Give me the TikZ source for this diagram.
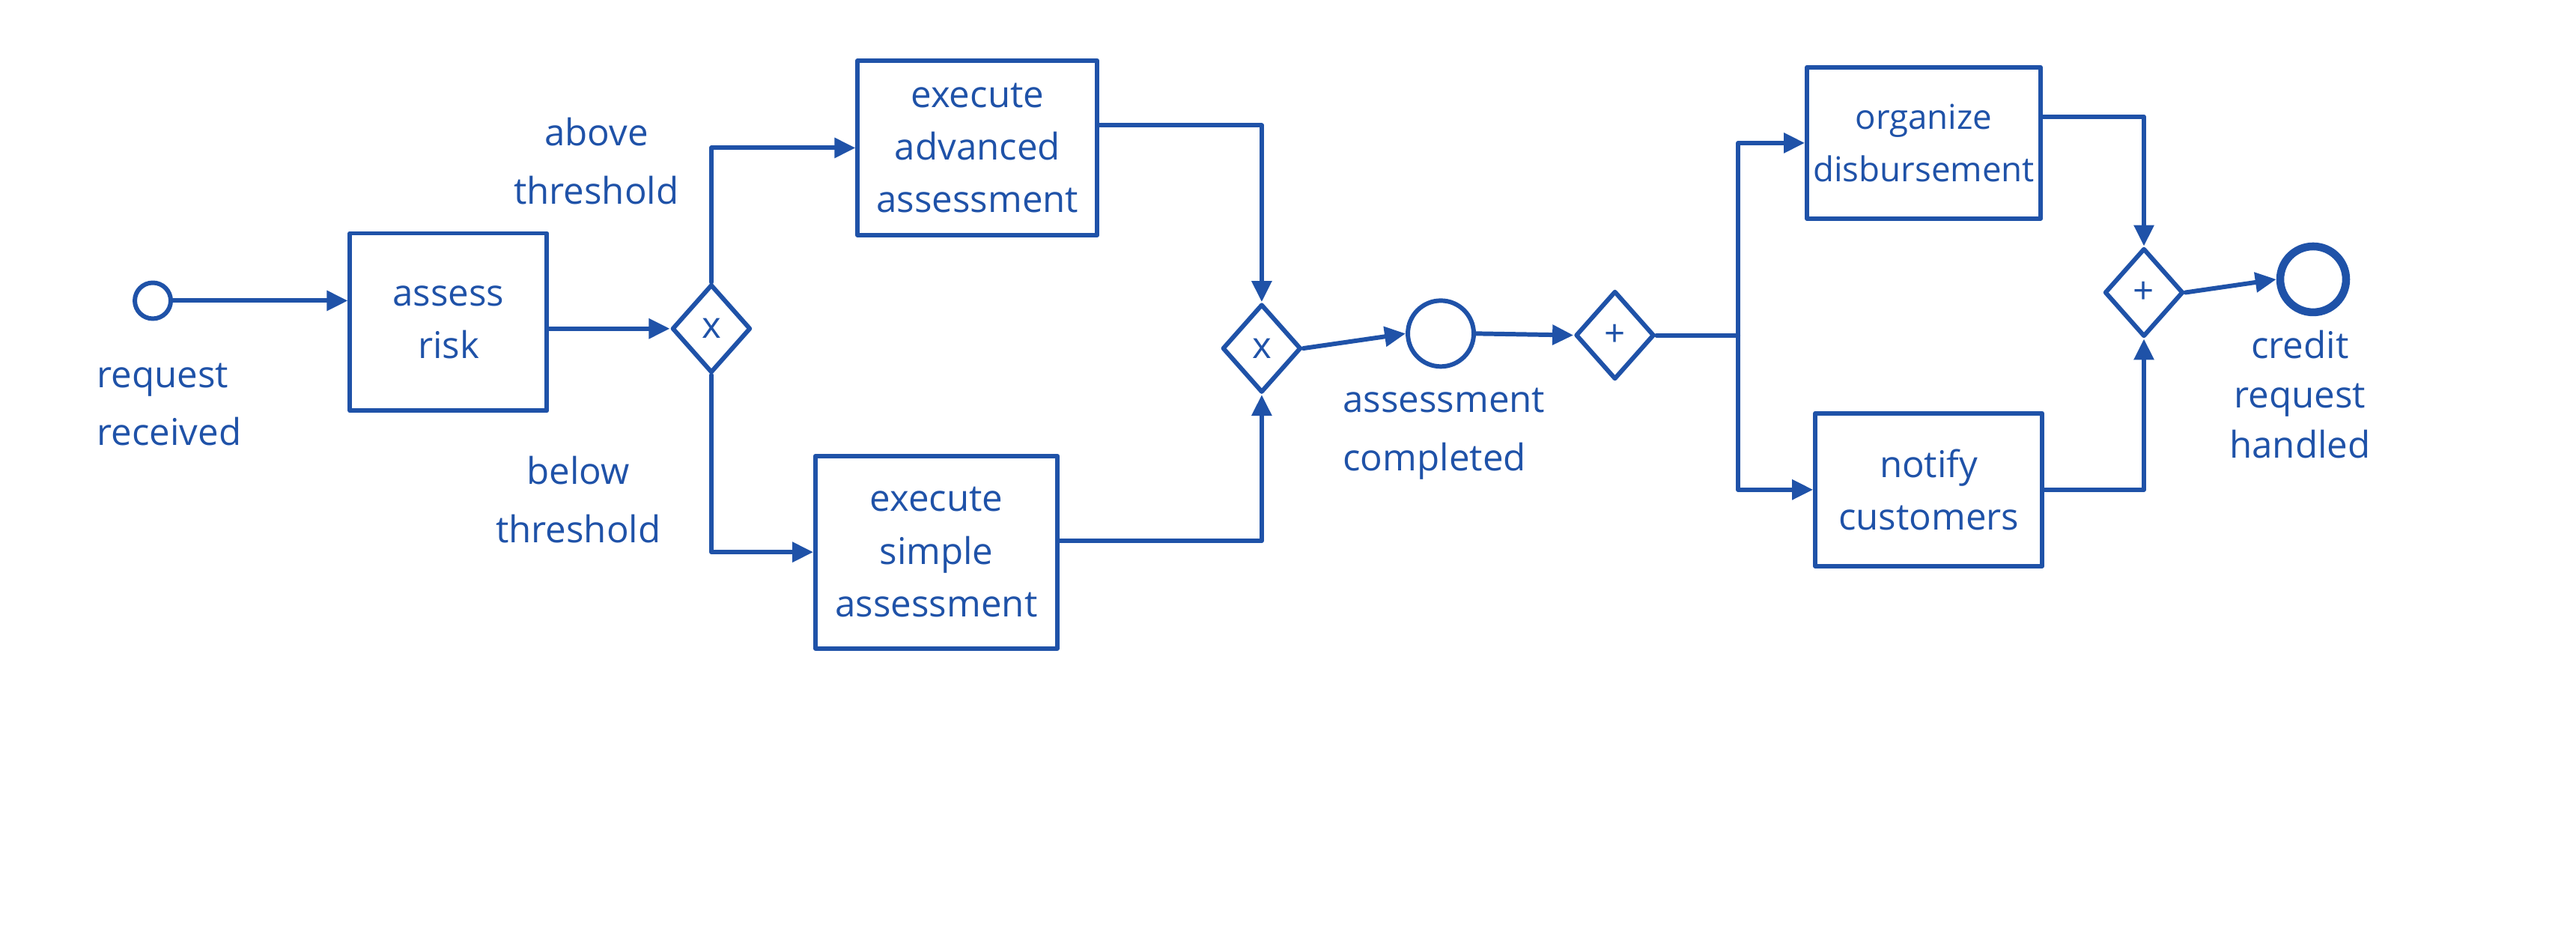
\documentclass[tikz,border=0pt]{standalone}
\usepackage{fontspec}
\setmainfont{Open Sans}
\usetikzlibrary{arrows.meta,shapes.geometric}
\definecolor{ink}{RGB}{31,82,168}
\begin{document}
\begin{tikzpicture}[x=0.02194cm,y=-0.02194cm,
  inkline/.style={draw=ink,line width=1.7pt,line cap=round,line join=round},
  task/.style={inkline,rectangle,align=center,text=ink,inner sep=0pt,font=\fontsize{14}{20}\selectfont},
  gate/.style={inkline,diamond,minimum width=1.05cm,minimum height=1.18cm,inner sep=0pt,text=ink,font=\fontsize{14}{14}\selectfont},
  evt/.style={inkline,circle,inner sep=0pt},
  lbl/.style={text=ink,align=left,font=\fontsize{14}{22}\selectfont},
  flow/.style={inkline,-{Triangle[length=0.28cm,width=0.26cm]}},
  seg/.style={inkline}]
\useasboundingbox (0,0) rectangle (1568,572);
\fill[white] (0,0) rectangle (1568,572);
% events
\node[evt,minimum size=0.48cm] (start) at (93,183) {};
\node[evt,minimum size=0.88cm] (mid) at (877,203) {};
\node[evt,minimum size=0.88cm,line width=3pt] (end) at (1408,170) {};
% tasks
\node[task,minimum width=2.63cm,minimum height=2.37cm] (assess) at (273,196) {assess\\risk};
\node[task,minimum width=3.20cm,minimum height=2.33cm] (adv) at (595,90) {execute\\advanced\\assessment};
\node[task,minimum width=3.23cm,minimum height=2.57cm] (simple) at (570,336) {execute\\simple\\assessment};
\node[task,minimum width=3.12cm,minimum height=2.02cm,font=\fontsize{13}{20}\selectfont] (org) at (1171,87) {organize\\disbursement};
\node[task,minimum width=3.03cm,minimum height=2.04cm] (notify) at (1174,298) {notify\\customers};
% gateways
\node[gate] (xs) at (433,200) {x};
\node[gate] (xj) at (768,212) {x};
\node[gate] (as) at (983,204) {+};
\node[gate] (aj) at (1305,178) {+};
% labels
\node[lbl] (l1) at (103,246) {request\\received};
\node[lbl,align=center] (l2) at (363,98) {above\\threshold};
\node[lbl,align=center] (l3) at (352,304) {below\\threshold};
\node[lbl] (l4) at (879,264) {assessment\\completed};
\node[lbl,align=center,font=\fontsize{14}{19}\selectfont] (l5) at (1400,240) {credit\\request\\handled};
% flows
\draw[flow] (start.east) -- (start.east -| assess.west);
\draw[flow] (assess.east |- xs.west) -- (xs.west);
\draw[flow] (xs.north) |- (adv.west);
\draw[flow] (xs.south) |- (simple.west);
\draw[flow] ([yshift=0.3cm]adv.east) -| (xj.north);
\draw[flow] ([yshift=0.15cm]simple.east) -| (xj.south);
\draw[flow] (xj.east) -- (mid.west);
\draw[flow] (mid.east) -- (as.west);
\coordinate (split) at (1058,204);
\draw[seg] (as.east) -- (split);
\draw[flow] (split) |- (org.west);
\draw[flow] (split) |- (notify.west);
\draw[flow] ([yshift=0.35cm]org.east) -| (aj.north);
\draw[flow] (notify.east) -| (aj.south);
\draw[flow] (aj.east) -- (end.west);
\end{tikzpicture}
\end{document}
